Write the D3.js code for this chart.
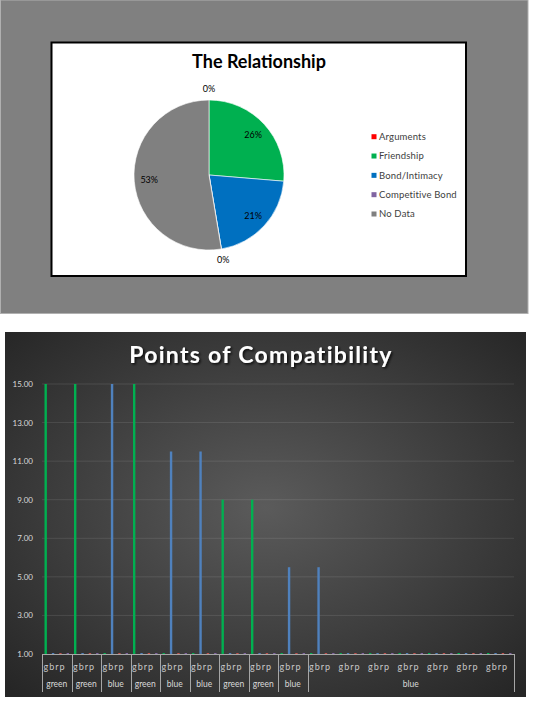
<!DOCTYPE html>
<html><head><meta charset="utf-8">
<script src="https://cdn.jsdelivr.net/npm/d3@7"></script>
<style>html,body{margin:0;padding:0;background:#fff;}svg{display:block;}</style>
</head><body>
<svg id="c" width="533" height="704"></svg>
<script>
// ---- Pie data ----
const pieCategories = ["Arguments", "Friendship", "Bond/Intimacy", "Competitive Bond", "No Data"];
const pieValues = [0, 5, 4, 0, 10];
const pieColors = ["#ff0000", "#00b050", "#0070c0", "#8064a2", "#808080"];

// ---- Column chart data ----
const subCategories = ["g", "b", "r", "p"];
const seriesG = [15, 15, 1, 15, 1, 1, 9, 9, 1, 1, 1, 1, 1, 1, 1, 1];
const seriesB = [1, 1, 15, 1, 11.5, 11.5, 1, 1, 5.5, 5.5, 1, 1, 1, 1, 1, 1];
const seriesR = [1, 1, 1, 1, 1, 1, 1, 1, 1, 1, 1, 1, 1, 1, 1, 1];
const seriesP = [1, 1, 1, 1, 1, 1, 1, 1, 1, 1, 1, 1, 1, 1, 1, 1];
const outerLabels = ["green", "green", "blue", "green", "blue", "blue", "green", "green", "blue", "blue"];
const outerSpans = [1, 1, 1, 1, 1, 1, 1, 1, 1, 7];
const yTicks = [1, 3, 5, 7, 9, 11, 13, 15];
const barColors = {g: "#00b050", b: "#4f81bd", r: "#c0504d", p: "#8064a2"};

const svg = d3.select("#c");
const FONT = "Lato, 'Open Sans', sans-serif";

// ================= TOP: pie chart =================
svg.append("rect").attr("x", 0.5).attr("y", 0).attr("width", 527.5).attr("height", 313.5)
  .attr("fill", "#808080").attr("stroke", "#b0b0b0").attr("stroke-width", 1);
svg.append("rect").attr("x", 51.5).attr("y", 42.5).attr("width", 414.5).attr("height", 233.5)
  .attr("fill", "#ffffff").attr("stroke", "#000").attr("stroke-width", 2);
svg.append("text").attr("x", 259).attr("y", 68).attr("text-anchor", "middle")
  .attr("font-family", FONT).attr("font-weight", "bold").attr("font-size", 18).attr("fill", "#000")
  .text("The Relationship");

const cx = 209, cy = 175, R = 75;
const pieData = pieCategories.map((c, i) => ({cat: c, value: pieValues[i], color: pieColors[i]}));
const arcs = d3.pie().sort(null).value(d => d.value)(pieData);
const arcGen = d3.arc().innerRadius(0).outerRadius(R);
const gp = svg.append("g").attr("transform", `translate(${cx},${cy})`);
gp.selectAll("path").data(arcs).join("path")
  .attr("d", arcGen).attr("fill", d => d.data.color)
  .attr("stroke", "#ffffff").attr("stroke-width", 0.6);
const total = d3.sum(pieValues);
const pct = d3.format(".0%");
const inArc = d3.arc().innerRadius(60).outerRadius(60);
const outArc = d3.arc().innerRadius(86).outerRadius(86);
gp.selectAll("text").data(arcs).join("text")
  .attr("transform", d => {
    const c = (d.data.value > 0 ? inArc : outArc).centroid(d);
    return `translate(${c[0]},${c[1]})`;
  })
  .attr("text-anchor", "middle").attr("dy", "0.35em")
  .attr("font-family", FONT).attr("font-size", 9).attr("fill", "#000")
  .text(d => pct(d.data.value / total));

const legY = d3.scalePoint().domain(pieCategories).range([136.7, 214]);
const leg = svg.append("g");
pieData.forEach(d => {
  leg.append("rect").attr("x", 371.5).attr("y", legY(d.cat) - 2.5).attr("width", 5).attr("height", 5).attr("fill", d.color);
  leg.append("text").attr("x", 379).attr("y", legY(d.cat)).attr("dy", "0.35em")
    .attr("font-family", FONT).attr("font-size", 9.5).attr("letter-spacing", 0.15).attr("fill", "#404040").text(d.cat);
});

// ================= BOTTOM: column chart =================
const defs = svg.append("defs");
const rg = defs.append("radialGradient").attr("id", "bg").attr("cx", "50%").attr("cy", "48%").attr("r", "70%");
rg.append("stop").attr("offset", "0%").attr("stop-color", "#5b5b5b");
rg.append("stop").attr("offset", "100%").attr("stop-color", "#262626");
const sh = defs.append("filter").attr("id", "sh").attr("x", "-10%").attr("y", "-30%").attr("width", "130%").attr("height", "180%");
sh.append("feDropShadow").attr("dx", 1.5).attr("dy", 1.5).attr("stdDeviation", 1.2).attr("flood-color", "#000").attr("flood-opacity", 0.8);

svg.append("rect").attr("x", 5).attr("y", 332).attr("width", 521).attr("height", 365).attr("fill", "url(#bg)");
svg.append("text").attr("x", 261).attr("y", 363).attr("text-anchor", "middle")
  .attr("font-family", FONT).attr("font-weight", "bold").attr("font-size", 23).attr("letter-spacing", 1.3)
  .attr("fill", "#ffffff").attr("filter", "url(#sh)").text("Points of Compatibility");

const nGroups = seriesG.length;
const left = 42, right = 514, baseY = 654, topY = 384;
const x0 = d3.scaleBand().domain(d3.range(nGroups)).range([left, right]).padding(0);
const x1 = d3.scaleBand().domain(subCategories).range([0, x0.bandwidth()]).padding(0);
const y = d3.scaleLinear().domain([1, 15]).range([baseY, topY]);

// gridlines
svg.append("g").selectAll("line").data(yTicks.filter(t => t > 1)).join("line")
  .attr("x1", left).attr("x2", right).attr("y1", d => y(d)).attr("y2", d => y(d))
  .attr("stroke", "#ffffff").attr("stroke-opacity", 0.1).attr("stroke-width", 1);

// y axis labels
const yAxis = d3.axisLeft(y).tickValues(yTicks).tickFormat(d3.format(".2f")).tickSize(0).tickPadding(9);
const gy = svg.append("g").attr("transform", `translate(${left},0)`).call(yAxis);
gy.select(".domain").remove();
gy.selectAll("text").attr("font-family", FONT).attr("font-size", 8).attr("fill", "#d9d9d9");

// bars
const seriesMap = {g: seriesG, b: seriesB, r: seriesR, p: seriesP};
const barData = [];
d3.range(nGroups).forEach(i => subCategories.forEach(s => barData.push({i, s, v: seriesMap[s][i]})));
const bw = 2.4;
svg.append("g").selectAll("rect").data(barData).join("rect")
  .attr("x", d => x0(d.i) + x1(d.s) + x1.bandwidth() / 2 - bw / 2)
  .attr("width", bw)
  .attr("y", d => Math.min(y(d.v), baseY - 1))
  .attr("height", d => Math.max(baseY - y(d.v), 1))
  .attr("fill", d => barColors[d.s]);

// category axis
const ax = svg.append("g");
ax.append("line").attr("x1", left).attr("x2", right).attr("y1", baseY + 0.5).attr("y2", baseY + 0.5)
  .attr("stroke", "#a6a6a6").attr("stroke-width", 1);
ax.selectAll("text.inner").data(d3.range(nGroups)).join("text").attr("class", "inner")
  .attr("x", d => x0(d) + 1.5).attr("y", 667).attr("dy", "0.35em")
  .attr("text-anchor", "start").attr("font-family", FONT).attr("font-size", 9).attr("letter-spacing", 1)
  .attr("fill", "#c8c8c8")
  .text(subCategories.join(""));
let start = 0;
const outer = outerLabels.map((lab, k) => { const o = {lab, a: start, b: start + outerSpans[k]}; start += outerSpans[k]; return o; });
const xEdge = k => k >= nGroups ? right : x0(k);
const seps = outer.map(o => o.a).concat([nGroups]);
ax.selectAll("line.sep").data(seps).join("line").attr("class", "sep")
  .attr("x1", d => Math.round(xEdge(d)) + 0.5).attr("x2", d => Math.round(xEdge(d)) + 0.5)
  .attr("y1", baseY).attr("y2", 692).attr("stroke", "#a6a6a6").attr("stroke-width", 1);
ax.selectAll("text.outer").data(outer).join("text").attr("class", "outer")
  .attr("x", d => (xEdge(d.a) + xEdge(d.b)) / 2).attr("y", 684).attr("dy", "0.35em")
  .attr("text-anchor", "middle").attr("font-family", FONT).attr("font-size", 8.5).attr("fill", "#d9d9d9")
  .text(d => d.lab);
</script>
</body></html>
